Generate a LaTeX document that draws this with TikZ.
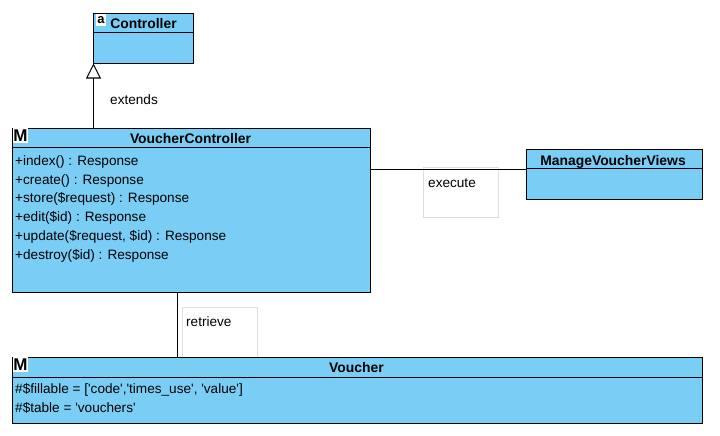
\documentclass[tikz,border=0pt]{standalone}
\usepackage{fontspec}
\setmainfont{Liberation Sans}
\usetikzlibrary{arrows.meta}
\definecolor{umlblue}{RGB}{122,206,245}
\definecolor{notegray}{RGB}{222,222,222}
\newcommand{\sq}{\textquotesingle}
\tikzset{
  px/.style={x=1pt,y=-1pt},
  umlbox/.style={draw=black,fill=umlblue,line width=1pt,rectangle,inner sep=0pt,outer sep=0pt,anchor=north west},
  title/.style={font=\bfseries\fontsize{13.9}{16}\selectfont,inner sep=0pt,anchor=base},
  member/.style={font=\fontsize{13.6}{16}\selectfont,inner sep=0pt,anchor=base west},
  lbl/.style={font=\fontsize{13.6}{16}\selectfont,inner sep=0pt,anchor=base west},
  notebox/.style={draw=notegray,fill=white,line width=.8pt,rectangle,inner sep=0pt,outer sep=0pt,anchor=north west},
  link/.style={draw=black,line width=1pt},
  icon/.style={fill=white,inner sep=0pt,anchor=center},
}
\newcommand{\umlclass}[6]{% name, x, y, w, h, head height
  \node[umlbox,minimum width=#4pt,minimum height=#5pt] (#1) at (#2,#3) {};
  \node[umlbox,minimum width=#4pt,minimum height=#6pt] (#1h) at (#2,#3) {};
}
\begin{document}
\begin{tikzpicture}[px]
\useasboundingbox (0,0) rectangle (720,436);
\fill[white] (0,0) rectangle (720,436);
% notes behind the connectors
\node[notebox,minimum width=75pt,minimum height=49.5pt] (execnote) at (423.5,167.5) {};
\node[notebox,minimum width=75pt,minimum height=49.5pt] (retrnote) at (182.5,307.5) {};
% classes
\umlclass{ctrl}{93.5}{13.5}{100}{50}{19}
\umlclass{vc}{12.5}{128}{358}{164.5}{19}
\umlclass{mv}{526.5}{149.5}{176}{50}{19}
\umlclass{vo}{12.5}{357}{690}{66.5}{20}
% titles
\node[title] (ctrlt) at (143.5,29) {Controller};
\node[title] (vct) at (190.5,143.5) {VoucherController};
\node[title] (mvt) at (613,165) {ManageVoucherViews};
\node[title] (vot) at (356.5,372.5) {Voucher};
% icons
\node[icon,minimum width=10pt,minimum height=12pt,font=\bfseries\fontsize{13}{13}\selectfont] (ctrli) at (101,20.5) {a};
\node[icon,minimum width=15pt,minimum height=15pt,font=\bfseries\fontsize{17}{17}\selectfont] (vci) at (20.5,135.5) {M};
\node[icon,minimum width=15pt,minimum height=15pt,font=\bfseries\fontsize{17}{17}\selectfont] (voi) at (20.5,364.5) {M};
% members
\node[member] (m1) at (15,165) {+index() : Response};
\node[member] (m2) at (15,184) {+create() : Response};
\node[member] (m3) at (15,202) {+store(\$request) : Response};
\node[member] (m4) at (15,221) {+edit(\$id) : Response};
\node[member] (m5) at (15,240) {+update(\$request, \$id) : Response};
\node[member] (m6) at (15,259) {+destroy(\$id) : Response};
\node[member] (a1) at (15,393) {\#\$fillable = [\sq code\sq,\sq times\_use\sq, \sq value\sq]};
\node[member] (a2) at (15,412) {\#\$table = \sq vouchers\sq};
% connectors
\draw[link,-{Triangle[open,fill=white,length=15pt,width=15pt]}] (vc.north -| ctrl.south west) -- (ctrl.south west);
\coordinate (execend) at ([yshift=-0.5pt]mvh.south west);
\draw[link] (vc.east |- execend) -- (execend);
\coordinate (retrx) at (177.5,0);
\draw[link] (vc.south -| retrx) -- (vo.north -| retrx);
% labels
\node[lbl] (ext) at (110,104) {extends};
\node[lbl] (exe) at (428,187) {execute};
\node[lbl] (ret) at (186,326) {retrieve};
\end{tikzpicture}
\end{document}
